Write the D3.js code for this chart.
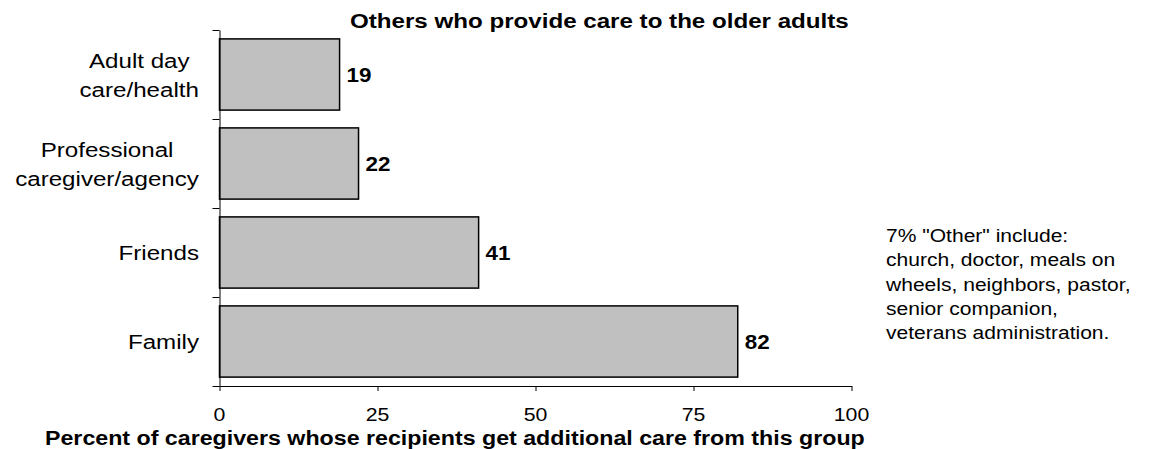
<!DOCTYPE html>
<html>
<head>
<meta charset="utf-8">
<script src="https://cdn.jsdelivr.net/npm/d3@7"></script>
<style>
  html, body { margin: 0; padding: 0; background: #fff; }
  svg { display: block; }
  text { font-family: "Liberation Sans", Arial, Helvetica, sans-serif; fill: #000; }
</style>
</head>
<body>
<svg id="chart" width="1150" height="449"></svg>
<script>
// Chart data
const categories = [
  ["Adult day", "care/health"],
  ["Professional", "caregiver/agency"],
  ["Friends"],
  ["Family"]
];
const values = [19, 22, 41, 82];
const xTicks = [0, 25, 50, 75, 100];
const titleText = "Others who provide care to the older adults";
const xAxisTitle = "Percent of caregivers whose recipients get additional care from this group";
const noteLines = [
  "7% \"Other\" include:",
  "church, doctor, meals on",
  "wheels, neighbors, pastor,",
  "senior companion,",
  "veterans administration."
];

const SX = 1.15; // horizontal text stretch of the drawing
const plot = { left: 219.5, right: 851.5, top: 30, bottom: 386 };

const svg = d3.select("#chart");

const x = d3.scaleLinear().domain([0, 100]).range([plot.left, plot.right]);
const y = d3.scaleBand()
  .domain(d3.range(categories.length))
  .range([plot.top, plot.bottom])
  .paddingInner(0.2)
  .paddingOuter(0.1);

// text helper: horizontally stretched label anchored at (tx, ty)
function label(g, tx, ty, str, size, weight, anchor, sx) {
  return g.append("text")
    .attr("transform", `translate(${tx},${ty}) scale(${sx || SX},1)`)
    .attr("font-size", size)
    .attr("font-weight", weight || "normal")
    .attr("text-anchor", anchor || "start")
    .text(str);
}

// Bars
svg.append("g").selectAll("rect")
  .data(values)
  .join("rect")
  .attr("x", x(0))
  .attr("y", (d, i) => y(i))
  .attr("width", d => x(d) - x(0))
  .attr("height", y.bandwidth())
  .attr("fill", "#c0c0c0")
  .attr("stroke", "#000")
  .attr("stroke-width", 1.5);

// Value labels
const vl = svg.append("g");
values.forEach((v, i) => {
  label(vl, x(v) + 7, y(i) + y.bandwidth() / 2 + 7, String(v), 19.5, "bold", "start");
});

// X axis
const xAxis = d3.axisBottom(x).tickValues(xTicks).tickSize(5).tickSizeOuter(0).tickFormat(d3.format("d"));
const gx = svg.append("g").attr("transform", `translate(0,${plot.bottom})`).call(xAxis);
gx.select(".domain").attr("stroke", "#000").attr("stroke-width", 1);
gx.selectAll(".tick line").attr("stroke", "#000");
gx.selectAll(".tick text").remove();
const tl = svg.append("g");
xTicks.forEach(t => label(tl, x(t), plot.bottom + 35, String(t), 18.5, "normal", "middle"));

// Y axis with tick marks between categories
const yb = d3.scaleLinear().domain([0, categories.length]).range([plot.top, plot.bottom]);
const yAxis = d3.axisLeft(yb).tickValues(d3.range(categories.length + 1)).tickSize(7).tickSizeOuter(0).tickFormat("");
const gy = svg.append("g").attr("transform", `translate(${plot.left},0)`).call(yAxis);
gy.select(".domain").attr("stroke", "#000").attr("stroke-width", 1);
gy.selectAll(".tick line").attr("stroke", "#000");

// Category labels: block right-aligned, lines centred within the block
const cl = svg.append("g");
const catSize = 21, catLead = 29, catRight = 199;
categories.forEach((lines, i) => {
  const cy = y(i) + y.bandwidth() / 2;
  const widths = lines.map(s => {
    const t = cl.append("text").attr("font-size", catSize).text(s);
    const w = t.node().getComputedTextLength() * SX;
    t.remove();
    return w;
  });
  const maxW = d3.max(widths);
  const cx = catRight - maxW / 2;
  const first = cy - (lines.length - 1) * catLead / 2 + 7.5;
  lines.forEach((s, k) => label(cl, cx, first + k * catLead, s, catSize, "normal", "middle"));
});

// Title
label(svg, 350, 28, titleText, 21, "bold", "start");

// X axis title
label(svg, 45, 444.5, xAxisTitle, 19.5, "bold", "start", 1.19);

// Side note
const nt = svg.append("g");
noteLines.forEach((s, k) => label(nt, 886, 242 + k * 24.3, s, 18.3, "normal", "start"));
</script>
</body>
</html>
